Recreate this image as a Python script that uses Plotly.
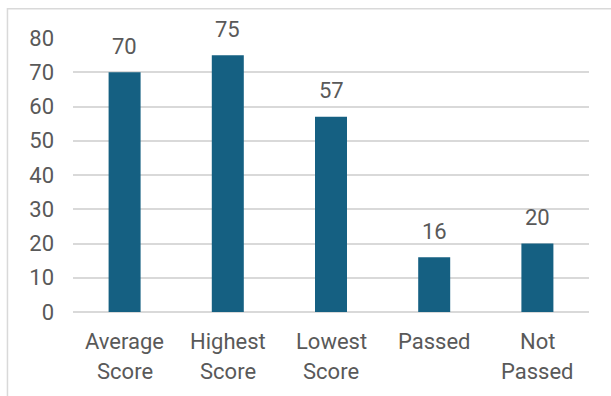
import plotly.graph_objects as go

# Exam summary figures
categories = ["Average Score", "Highest Score", "Lowest Score", "Passed", "Not Passed"]
label_lines = [["Average", "Score"], ["Highest", "Score"], ["Lowest", "Score"], ["Passed", ""], ["Not", "Passed"]]
values = [70, 75, 57, 16, 20]
y_ticks = [0, 10, 20, 30, 40, 50, 60, 70, 80]

BAR = "#156082"
TEXT = "#595959"
GRID = "#d9d9d9"
FONT = "Roboto"
FS = 22

fig = go.Figure(
    go.Bar(
        x=categories,
        y=values,
        marker=dict(color=BAR, line=dict(width=0)),
        width=0.31,
        hoverinfo="skip",
    )
)

annotations = []
# value labels above each bar
for c, v in zip(categories, values):
    annotations.append(dict(
        x=c, y=v, xref="x", yref="y", text=str(v), showarrow=False,
        yanchor="middle", yshift=26,
        font=dict(family=FONT, size=FS, color=TEXT),
    ))
# two-line category labels under the axis
for c, lines in zip(categories, label_lines):
    for i, line in enumerate(lines):
        if not line:
            continue
        annotations.append(dict(
            x=c, y=-0.1075 - i * 0.1093, xref="x", yref="paper", text=line,
            showarrow=False, yanchor="middle",
            font=dict(family=FONT, size=FS, color=TEXT),
        ))

# outer chart frame
shapes = [dict(
    type="rect", xref="paper", yref="paper",
    x0=-0.127, x1=1.2, y0=-0.5, y1=1.107,
    line=dict(color=GRID, width=1.5), layer="below",
)]

fig.update_layout(
    width=611,
    height=396,
    margin=dict(l=73, r=22, t=38, b=83.5),
    paper_bgcolor="white",
    plot_bgcolor="white",
    showlegend=False,
    annotations=annotations,
    shapes=shapes,
    xaxis=dict(
        showticklabels=False,
        showgrid=False,
        zeroline=False,
        showline=False,
        ticks="",
    ),
    yaxis=dict(
        range=[0, 80],
        tickvals=y_ticks,
        showgrid=True,
        gridcolor=GRID,
        gridwidth=1.5,
        zeroline=True,
        zerolinecolor=GRID,
        zerolinewidth=1.5,
        showline=False,
        ticks="",
        ticklabelstandoff=18,
        tickfont=dict(family=FONT, size=FS, color=TEXT),
    ),
)

fig.write_html("out.html")
